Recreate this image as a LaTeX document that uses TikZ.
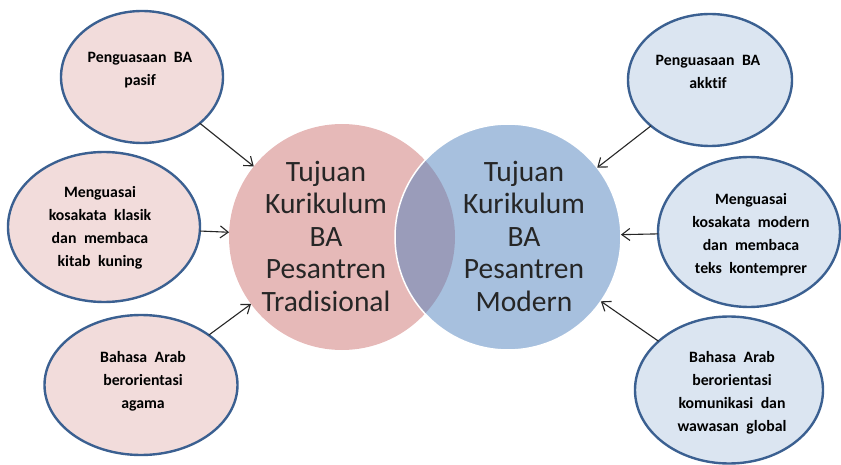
\documentclass[tikz,border=0pt]{standalone}
\usepackage{fontspec}
\setmainfont{Carlito}[Ligatures=NoCommon]
\usetikzlibrary{shapes.geometric}
\usetikzlibrary{arrows.meta}
\definecolor{tradpink}{HTML}{E6B9B8}
\definecolor{modblue}{HTML}{4F81BD}
\definecolor{lightpink}{HTML}{F2DCDB}
\definecolor{lightblue}{HTML}{DBE5F1}
\definecolor{rimblue}{HTML}{3B6091}
\newcommand\widespace{\spaceskip=7.5pt plus 1pt minus 0pt\relax}
\tikzset{
	pinkstyle/.style={ellipse, draw=rimblue, line width=2.4pt, fill=lightpink, inner sep=0pt, outer sep=0pt},
	bluestyle/.style={ellipse, draw=rimblue, line width=2.4pt, fill=lightblue, inner sep=0pt, outer sep=0pt},
	goaltext/.style={align=center, font=\fontsize{15.8}{23}\selectfont\bfseries\widespace},
	bigtext/.style={align=center, text=black!85, font=\fontsize{29.5}{32.5}\selectfont},
	pointer/.style={-{Straight Barb[length=8pt,width=12pt]}, line width=1.1pt, black!85}
}

\begin{document}
\begin{tikzpicture}[x=1pt, y=-1pt]
\useasboundingbox (0,0) rectangle (841,465);

\node[circle, fill=tradpink, minimum size=226, inner sep=0pt, outer sep=0pt] (trad) at (342,237) {};
\node[circle, fill=modblue, fill opacity=0.5, draw=white, line width=1.5pt, minimum size=226, inner sep=0pt, outer sep=0pt] (mod) at (508,237) {};

\node[bigtext] (ttrad) at (326,236) {Tujuan\\Kurikulum\\BA\\Pesantren\\Tradisional};
\node[bigtext] (tmod) at (524,236) {Tujuan\\Kurikulum\\BA\\Pesantren\\Modern};

\node[pinkstyle, minimum width=162, minimum height=132] (e1) at (142,77) {};
\node[pinkstyle, minimum width=192, minimum height=150] (e2) at (104,227) {};
\node[pinkstyle, minimum width=193, minimum height=140] (e3) at (141,385) {};
\node[bluestyle, minimum width=164, minimum height=132] (e4) at (710,80) {};
\node[bluestyle, minimum width=182, minimum height=150] (e5) at (749,232) {};
\node[bluestyle, minimum width=188, minimum height=147] (e6) at (729,390) {};

\node[goaltext] (t1) at (140,70) {Penguasaan BA\\pasif};
\node[goaltext] (t2) at (100,228) {Menguasai\\kosakata klasik\\dan membaca\\kitab kuning};
\node[goaltext] (t3) at (143,381) {Bahasa Arab\\berorientasi\\agama};
\node[goaltext] (t4) at (708,72) {Penguasaan BA\\akktif};
\node[goaltext] (t5) at (751,235) {Menguasai\\kosakata modern\\dan membaca\\teks kontemprer};
\node[goaltext] (t6) at (732,393) {Bahasa Arab\\berorientasi\\komunikasi dan\\wawasan global};

\draw[pointer] (e1) -- (trad);
\draw[pointer] (e2) -- (trad);
\draw[pointer] (e3) -- (trad);
\draw[pointer] (e4) -- (mod);
\draw[pointer] (e5) -- (mod);
\draw[pointer] (e6) -- (mod);
\end{tikzpicture}
\end{document}
